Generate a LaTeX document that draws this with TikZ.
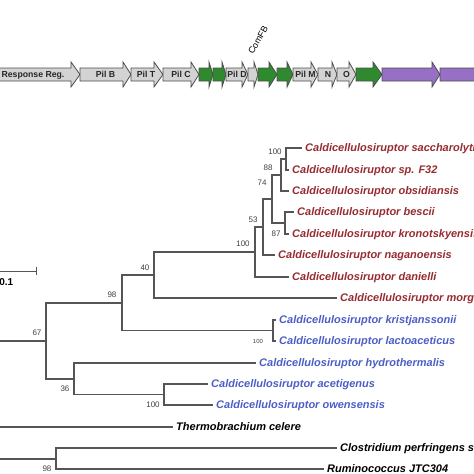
\documentclass[tikz,border=0pt]{standalone}
\usepackage{fontspec}
\setmainfont{Liberation Sans}
\definecolor{caldiRojo}{HTML}{962B30}
\definecolor{caldiAzul}{HTML}{4B5EC6}
\definecolor{geneGris}{HTML}{D3D3D3}
\definecolor{geneVerde}{HTML}{2F8A2F}
\definecolor{geneMorado}{HTML}{9670C4}
\definecolor{ramaGris}{HTML}{555555}
\usepackage{tikz}
\usetikzlibrary{calc}
\tikzset{
	gen/.style={
		draw=black!70,
		line width=0.8pt,
		line join=miter
	},
	genlab/.style={
		font=\fontsize{8.7}{10}\selectfont\bfseries,
		text=black!85,
		inner sep=0pt,
		text height=6.2pt,
		text depth=0pt
	},
	ramaLinea/.style={
		draw=ramaGris,
		line width=1.1pt
	},
	hoja/.style={
		anchor=west,
		inner xsep=3pt,
		inner ysep=0pt,
		text height=9pt,
		text depth=1.2pt,
		font=\fontsize{11}{13}\selectfont\bfseries\itshape
	},
	hojaRoja/.style={hoja, text=caldiRojo},
	hojaAzul/.style={hoja, text=caldiAzul},
	hojaNegra/.style={hoja, text=black},
	soporte/.style={
		font=\fontsize{8}{9}\selectfont,
		text=black!75,
		inner sep=0pt,
		text height=5.7pt,
		text depth=0pt
	}
}

\begin{document}
\begin{tikzpicture}[x=1pt, y=-1pt]
		\useasboundingbox (0,0) rectangle (474,474);
		% operon
		\foreach \ini/\bas/\pun/\col in {-12/71/80/geneGris, 80/123/131/geneGris, 131/154/163/geneGris, 163/191/199/geneGris, 199/209/213/geneVerde, 213/222/226/geneVerde, 226/242/248/geneGris, 248/254/258/geneGris, 258/269/277/geneVerde, 277/287/293/geneVerde, 293/311/318/geneGris, 318/332/337/geneGris, 337/349/356/geneGris, 356/373/382/geneVerde, 382/432/440/geneMorado, 440/520/528/geneMorado}{
			\draw[gen, fill=\col] (\ini,68) -- (\bas,68) -- (\bas,62) -- (\pun,74.5) -- (\bas,87) -- (\bas,81) -- (\ini,81) -- cycle;
		}
		\foreach \cx/\lab [count=\i] in {33/{Response Reg.}, 105.5/{Pil B}, 146/{Pil T}, 181/{Pil C}, 237/{Pil D}, 305.5/{Pil M}, 328/N, 346.5/O}{
			\node[genlab] (gen\i) at (\cx,74.5) {\lab};
		}
		\node[font=\fontsize{9}{10}\selectfont, rotate=60, inner sep=0pt] (comfb) at (258,40) {ComFB};
		% escala
		\coordinate (esc0) at (-5,271);
		\coordinate (esc1) at (36,271);
		\draw[ramaLinea, line width=1pt] (esc0) -- (esc1) ($(esc1)+(0,-4)$) -- ($(esc1)+(0,4)$);
		\node[anchor=east, inner sep=0pt, font=\fontsize{10}{11}\selectfont\bfseries, text height=7.2pt, text depth=0pt] (esclab) at (13.5,282) {0.1};
		% hojas
		\node[hojaRoja] (sacch) at (302,148) {Caldicellulosiruptor saccharolyticus};
		\node[hojaRoja] (f32) at (289,170) {Caldicellulosiruptor sp. F32};
		\node[hojaRoja] (obsid) at (289,191) {Caldicellulosiruptor obsidiansis};
		\node[hojaRoja] (bescii) at (294,212) {Caldicellulosiruptor bescii};
		\node[hojaRoja] (kronot) at (289,234) {Caldicellulosiruptor kronotskyensis};
		\node[hojaRoja] (nagano) at (275,255) {Caldicellulosiruptor naganoensis};
		\node[hojaRoja] (danie) at (289,277) {Caldicellulosiruptor danielli};
		\node[hojaRoja] (morg) at (337,298) {Caldicellulosiruptor morganii};
		\node[hojaAzul] (krist) at (276,320) {Caldicellulosiruptor kristjanssonii};
		\node[hojaAzul] (lacto) at (276,341) {Caldicellulosiruptor lactoaceticus};
		\node[hojaAzul] (hydro) at (256,363) {Caldicellulosiruptor hydrothermalis};
		\node[hojaAzul] (acet) at (208,384) {Caldicellulosiruptor acetigenus};
		\node[hojaAzul] (owens) at (213,405) {Caldicellulosiruptor owensensis};
		\node[hojaNegra] (thermo) at (173,427) {Thermobrachium celere};
		\node[hojaNegra] (clos) at (337,448) {Clostridium perfringens str. 13};
		\node[hojaNegra] (rumino) at (324,469) {Ruminococcus JTC304};
		% nodos internos
		\coordinate (n100a) at (286,159);
		\coordinate (n88) at (281,175);
		\coordinate (n87) at (285,223);
		\coordinate (n74) at (272,199);
		\coordinate (n53) at (263,227);
		\coordinate (n100b) at (255,252);
		\coordinate (n40) at (154,275);
		\coordinate (n100k) at (273,330.5);
		\coordinate (n98a) at (122,303);
		\coordinate (n100c) at (164,394.5);
		\coordinate (n36) at (74,379);
		\coordinate (n67) at (46,341);
		\coordinate (n98b) at (56,459);
		\coordinate (raiz1) at (-5,341);
		\coordinate (raiz2) at (-5,427);
		\coordinate (raiz3) at (-5,459);
		% ramas
		\draw[ramaLinea] (n100a) |- (sacch.west) (n100a) |- (f32.west);
		\draw[ramaLinea] (n88) |- (n100a) (n88) |- (obsid.west);
		\draw[ramaLinea] (n87) |- (bescii.west) (n87) |- (kronot.west);
		\draw[ramaLinea] (n74) |- (n88) (n74) |- (n87);
		\draw[ramaLinea] (n53) |- (n74) (n53) |- (nagano.west);
		\draw[ramaLinea] (n100b) |- (n53) (n100b) |- (danie.west);
		\draw[ramaLinea] (n40) |- (n100b) (n40) |- (morg.west);
		\draw[ramaLinea] (n100k) |- (krist.west) (n100k) |- (lacto.west);
		\draw[ramaLinea] (n98a) |- (n40) (n98a) |- (n100k);
		\draw[ramaLinea] (n100c) |- (acet.west) (n100c) |- (owens.west);
		\draw[ramaLinea] (n36) |- (hydro.west) (n36) |- (n100c);
		\draw[ramaLinea] (n67) |- (n98a) (n67) |- (n36);
		\draw[ramaLinea] (raiz1) -- (n67);
		\draw[ramaLinea] (raiz2) -- (thermo.west);
		\draw[ramaLinea] (n98b) |- (clos.west) (n98b) |- (rumino.west);
		\draw[ramaLinea] (raiz3) -- (n98b);
		% soporte
		\node[soporte] (b100a) at (275,152) {100};
		\node[soporte] (b88) at (268,168) {88};
		\node[soporte] (b74) at (262,183) {74};
		\node[soporte] (b87) at (276,234) {87};
		\node[soporte] (b53) at (253,220) {53};
		\node[soporte] (b100b) at (243,244) {100};
		\node[soporte] (b40) at (145,268) {40};
		\node[soporte] (b98a) at (112,295) {98};
		\node[soporte] (b67) at (37,333) {67};
		\node[soporte] (b36) at (65,389) {36};
		\node[soporte] (b100c) at (153,405) {100};
		\node[soporte, font=\fontsize{6}{7}\selectfont, text height=4.3pt] (b100k) at (258,341) {100};
		\node[soporte] (b98b) at (47,469) {98};
	\end{tikzpicture}
\end{document}
